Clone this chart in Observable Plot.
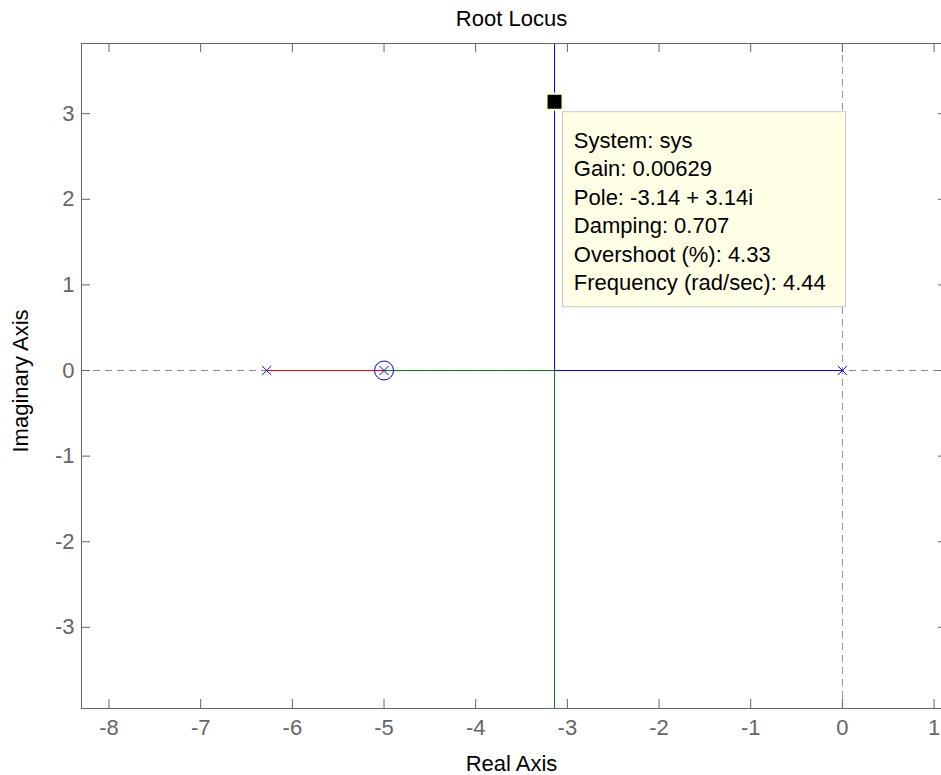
<!DOCTYPE html>
<html>
<head>
<meta charset="utf-8">
<script src="https://cdn.jsdelivr.net/npm/d3@7"></script>
<script src="https://cdn.jsdelivr.net/npm/@observablehq/plot@0.6"></script>
<style>
  html, body { margin: 0; padding: 0; background: #fff; }
  #chart svg { display: block; }
</style>
</head>
<body>
<div id="chart"></div>
<script>
// ---- data ----
const titleText = "Root Locus";
const xLabelText = "Real Axis";
const yLabelText = "Imaginary Axis";
const xDomain = [-8.3, 1.081];
const yDomain = [-3.948, 3.82];
const xTicks = [-8, -7, -6, -5, -4, -3, -2, -1, 0, 1];
const yTicks = [-3, -2, -1, 0, 1, 2, 3];
const poles = [-6.28, -5, 0];          // open-loop poles (x markers)
const zeros = [-5];                     // open-loop zero (o marker)
const redBranchX = [-6.28, -5];
const redBranchY = [0, 0];
const greenBranchX = [-5, -3.14, -3.14];
const greenBranchY = [0, 0, -3.948];
const blueBranchX = [0, -3.14, -3.14];
const blueBranchY = [0, 0, 3.82];
const tipPoint = { re: -3.14, im: 3.14 };
const tipLines = [
  "System: sys",
  "Gain: 0.00629",
  "Pole: -3.14 + 3.14i",
  "Damping: 0.707",
  "Overshoot (%): 4.33",
  "Frequency (rad/sec): 4.44"
];

// ---- build ----
const toPts = (xs, ys) => xs.map((x, i) => ({ x, y: ys[i] }));
const font = "'Liberation Sans', Arial, Helvetica, sans-serif";
const W = 941, H = 775, mL = 81, mR = 0, mT = 43, mB = 67;
const pw = W - mL - mR, ph = H - mT - mB;
const tick = 9;
const axisColor = "#666666";

const plot = Plot.plot({
  width: W,
  height: H,
  marginLeft: mL,
  marginRight: mR,
  marginTop: mT,
  marginBottom: mB,
  style: { fontFamily: font, background: "#fff", overflow: "visible" },
  x: { domain: xDomain, label: null },
  y: { domain: yDomain, label: null },
  marks: [
    // dashed reference axes
    Plot.ruleX([0], { stroke: "#8c8c8c", strokeDasharray: "7,5" }),
    Plot.ruleY([0], { stroke: "#8c8c8c", strokeDasharray: "7,5" }),
    // locus branches
    Plot.line(toPts(redBranchX, redBranchY), { x: "x", y: "y", stroke: "#ff0000", strokeWidth: 1 }),
    Plot.line(toPts(greenBranchX, greenBranchY), { x: "x", y: "y", stroke: "#008000", strokeWidth: 1 }),
    Plot.line(toPts(blueBranchX, blueBranchY), { x: "x", y: "y", stroke: "#0000ff", strokeWidth: 1 }),
    // poles and zeros
    Plot.dot(poles, { x: d => d, y: () => 0, symbol: "times", r: 4.2, stroke: "#0000ff", strokeWidth: 1 }),
    Plot.dot(zeros, { x: d => d, y: () => 0, symbol: "circle", r: 9.5, stroke: "#0000ff", fill: "none", strokeWidth: 1 }),
    // frame (left, top, bottom)
    Plot.ruleX([xDomain[0]], { stroke: axisColor }),
    Plot.ruleY([yDomain[0], yDomain[1]], { stroke: axisColor }),
    // inward ticks
    Plot.ruleX(xTicks, { stroke: axisColor, insetTop: ph - tick }),
    Plot.ruleX(xTicks, { stroke: axisColor, insetBottom: ph - tick }),
    Plot.ruleY(yTicks, { stroke: axisColor, insetRight: pw - tick }),
    Plot.ruleY(yTicks, { stroke: axisColor, insetLeft: pw - 3 }),
    // tick labels
    Plot.axisX(xTicks, { anchor: "bottom", tickSize: 0, tickPadding: 11, fontSize: 22, color: axisColor, tickFormat: d => String(d), label: null }),
    Plot.axisY(yTicks, { anchor: "left", tickSize: 0, tickPadding: 7, fontSize: 22, color: axisColor, tickFormat: d => String(d), label: null }),
    // titles
    Plot.text([titleText], { text: d => d, frameAnchor: "top", textAnchor: "middle", lineAnchor: "top", dy: -33, fontSize: 22, fill: "black" }),
    Plot.text([xLabelText], { text: d => d, frameAnchor: "bottom", textAnchor: "middle", lineAnchor: "top", dy: 47, fontSize: 22, fill: "black" }),
    Plot.text([yLabelText], { text: d => d, frameAnchor: "left", textAnchor: "middle", lineAnchor: "top", rotate: -90, dx: -68.7, dy: 5, fontSize: 22, fill: "black" }),
    // data tip
    Plot.text([tipLines.join("\n")], {
      x: () => tipPoint.re, y: () => tipPoint.im, text: d => d,
      textAnchor: "start", lineAnchor: "top", lineHeight: 1.295,
      dx: 19.3, dy: 25.7, fontSize: 22, fill: "black"
    }),
    Plot.dot([tipPoint], { x: "re", y: "im", symbol: "square", r: 9, fill: "black", stroke: "#ffffcc", strokeWidth: 2 })
  ]
});

// data-tip box behind the tip text, positioned from the scaled tip point
const sx = plot.scale("x"), sy = plot.scale("y");
const px = sx.apply(tipPoint.re), py = sy.apply(tipPoint.im);
const svg = d3.select(plot);
svg.append("rect")
  .attr("x", px + 8.5)
  .attr("y", py + 10.5)
  .attr("width", 283)
  .attr("height", 195)
  .attr("fill", "#ffffe6")
  .attr("stroke", "#c8c8c8")
  .attr("stroke-width", 1);
// bring the tip text above the box
svg.selectAll("text").filter(function () { return this.textContent.includes("System: sys"); })
  .each(function () {
    const g = this.closest("g[aria-label]") || this.parentNode;
    plot.appendChild(g);
  });

document.getElementById("chart").appendChild(plot);
</script>
</body>
</html>
